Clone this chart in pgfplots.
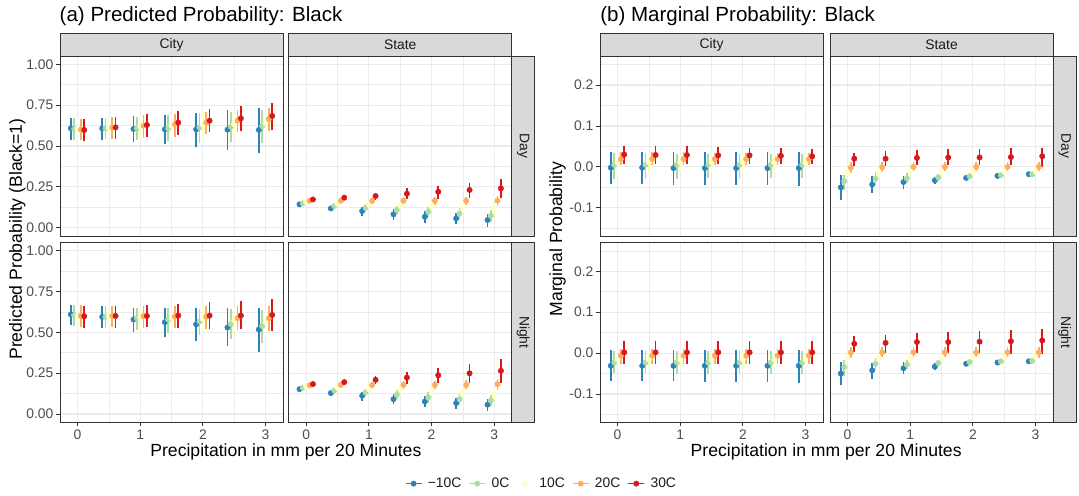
\documentclass[border=0pt]{standalone}
\usepackage{fontspec}
\setmainfont{Liberation Sans}
\usepackage{pgfplots}
\usepackage{pgfplotstable}
\pgfplotsset{compat=1.18}

\definecolor{c1}{HTML}{2B83BA}
\definecolor{c2}{HTML}{ABDDA4}
\definecolor{c3}{HTML}{FFFFBF}
\definecolor{c4}{HTML}{FDAE61}
\definecolor{c5}{HTML}{D7191C}
\definecolor{gridc}{HTML}{EBEBEB}
\definecolor{gray20}{HTML}{333333}
\definecolor{gray30}{HTML}{4D4D4D}
\definecolor{gray10}{HTML}{1A1A1A}
\definecolor{stripc}{HTML}{D9D9D9}

\newcommand{\tickfont}{\fontsize{10.4}{12}\selectfont}
\newcommand{\axfont}{\fontsize{13.2}{15}\selectfont}
\newcommand{\titfont}{\fontsize{15.4}{18}\selectfont}

% columns: p, then mean/low/high for -10C, 0C, 10C, 20C, 30C
% (a) predicted probability, City, Day
\pgfplotstableread{
p   m1    l1    h1    m2    l2    h2    m3    l3    h3    m4    l4    h4    m5    l5    h5
0   0.608 0.537 0.673 0.604 0.539 0.669 0.602 0.543 0.673 0.600 0.535 0.663 0.598 0.531 0.663
0.5 0.608 0.537 0.673 0.608 0.541 0.669 0.612 0.547 0.678 0.612 0.543 0.678 0.614 0.541 0.678
1   0.604 0.527 0.682 0.608 0.535 0.678 0.618 0.543 0.684 0.624 0.551 0.690 0.629 0.557 0.694
1.5 0.602 0.514 0.690 0.608 0.531 0.688 0.624 0.547 0.690 0.633 0.557 0.696 0.643 0.567 0.714
2   0.602 0.496 0.702 0.614 0.516 0.700 0.629 0.537 0.706 0.643 0.573 0.710 0.655 0.584 0.727
2.5 0.600 0.478 0.720 0.618 0.522 0.710 0.633 0.563 0.710 0.655 0.584 0.720 0.669 0.592 0.743
3   0.598 0.459 0.733 0.622 0.516 0.720 0.639 0.563 0.714 0.665 0.592 0.735 0.684 0.600 0.761
}\LCD
% (a) State, Day
\pgfplotstableread{
p   m1    l1    h1    m2    l2    h2    m3    l3    h3    m4    l4    h4    m5    l5    h5
0   0.143 0.133 0.153 0.149 0.140 0.158 0.157 0.149 0.165 0.165 0.157 0.173 0.173 0.163 0.183
0.5 0.118 0.106 0.130 0.133 0.123 0.143 0.147 0.139 0.155 0.165 0.157 0.173 0.184 0.172 0.196
1   0.102 0.073 0.129 0.122 0.098 0.143 0.141 0.124 0.157 0.165 0.145 0.184 0.194 0.170 0.214
1.5 0.082 0.047 0.112 0.108 0.082 0.135 0.135 0.114 0.155 0.165 0.145 0.186 0.208 0.173 0.241
2   0.067 0.031 0.102 0.098 0.065 0.129 0.129 0.100 0.155 0.165 0.141 0.190 0.220 0.176 0.255
2.5 0.057 0.020 0.092 0.086 0.053 0.118 0.120 0.094 0.149 0.165 0.139 0.190 0.231 0.184 0.276
3   0.047 0.006 0.082 0.073 0.037 0.108 0.112 0.078 0.145 0.165 0.135 0.194 0.241 0.180 0.298
}\LSD
% (a) City, Night
\pgfplotstableread{
p   m1    l1    h1    m2    l2    h2    m3    l3    h3    m4    l4    h4    m5    l5    h5
0   0.609 0.542 0.669 0.604 0.538 0.667 0.602 0.534 0.663 0.600 0.534 0.665 0.598 0.527 0.663
0.5 0.594 0.525 0.663 0.594 0.525 0.659 0.598 0.531 0.663 0.600 0.533 0.663 0.600 0.529 0.663
1   0.578 0.501 0.649 0.586 0.513 0.649 0.592 0.521 0.653 0.598 0.527 0.663 0.600 0.533 0.669
1.5 0.562 0.473 0.649 0.578 0.493 0.649 0.588 0.513 0.649 0.596 0.527 0.663 0.602 0.527 0.675
2   0.548 0.446 0.649 0.566 0.481 0.643 0.582 0.507 0.647 0.594 0.521 0.663 0.602 0.521 0.688
2.5 0.529 0.416 0.649 0.550 0.460 0.643 0.572 0.501 0.645 0.586 0.513 0.659 0.602 0.517 0.694
3   0.517 0.379 0.649 0.538 0.434 0.639 0.564 0.476 0.639 0.586 0.507 0.663 0.606 0.507 0.704
}\LCN
% (a) State, Night
\pgfplotstableread{
p   m1    l1    h1    m2    l2    h2    m3    l3    h3    m4    l4    h4    m5    l5    h5
0   0.152 0.142 0.162 0.160 0.151 0.169 0.166 0.158 0.174 0.176 0.168 0.184 0.183 0.173 0.193
0.5 0.128 0.116 0.140 0.144 0.134 0.154 0.160 0.151 0.169 0.178 0.168 0.188 0.195 0.183 0.207
1   0.112 0.081 0.136 0.132 0.108 0.154 0.152 0.134 0.170 0.178 0.160 0.196 0.209 0.181 0.233
1.5 0.091 0.061 0.120 0.118 0.090 0.144 0.148 0.124 0.170 0.178 0.156 0.200 0.223 0.185 0.258
2   0.077 0.045 0.108 0.101 0.067 0.132 0.136 0.106 0.164 0.178 0.152 0.203 0.237 0.187 0.284
2.5 0.067 0.030 0.099 0.091 0.055 0.124 0.130 0.097 0.160 0.178 0.152 0.209 0.249 0.187 0.308
3   0.057 0.020 0.091 0.083 0.047 0.116 0.120 0.087 0.152 0.183 0.148 0.213 0.264 0.189 0.339
}\LSN
% (b) marginal probability, City, Day
\pgfplotstableread{
p   m1     l1     h1    m2    l2     h2    m3    l3     h3    m4    l4    h4    m5    l5    h5
0   -0.002 -0.043 0.037 0.005 -0.029 0.033 0.011 -0.014 0.030 0.019 0.004 0.037 0.030 0.007 0.051
0.5 -0.002 -0.043 0.037 0.005 -0.029 0.033 0.011 -0.014 0.030 0.019 0.004 0.036 0.029 0.007 0.051
1   -0.003 -0.044 0.037 0.005 -0.029 0.032 0.011 -0.013 0.030 0.019 0.004 0.036 0.029 0.008 0.050
1.5 -0.003 -0.044 0.037 0.005 -0.028 0.032 0.011 -0.013 0.029 0.019 0.005 0.035 0.028 0.008 0.048
2   -0.003 -0.045 0.037 0.005 -0.028 0.032 0.011 -0.012 0.029 0.019 0.005 0.035 0.028 0.008 0.047
2.5 -0.003 -0.045 0.037 0.005 -0.028 0.031 0.011 -0.012 0.028 0.019 0.005 0.034 0.027 0.008 0.045
3   -0.003 -0.046 0.037 0.005 -0.027 0.031 0.010 -0.011 0.028 0.019 0.005 0.033 0.026 0.008 0.043
}\RCD
% (b) State, Day
\pgfplotstableread{
p   m1     l1     h1     m2     l2     h2     m3     l3     h3     m4     l4     h4    m5    l5    h5
0   -0.050 -0.081 -0.020 -0.035 -0.057 -0.019 -0.014 -0.028 0.000  -0.002 -0.014 0.011 0.020 0.002 0.035
0.5 -0.043 -0.065 -0.022 -0.029 -0.045 -0.013 -0.012 -0.024 0.000  -0.001 -0.012 0.011 0.020 0.002 0.038
1   -0.037 -0.055 -0.022 -0.028 -0.040 -0.016 -0.012 -0.022 -0.002 0.000  -0.011 0.012 0.022 0.004 0.041
1.5 -0.033 -0.042 -0.024 -0.026 -0.034 -0.018 -0.012 -0.020 -0.004 0.000  -0.010 0.012 0.023 0.004 0.043
2   -0.027 -0.032 -0.022 -0.023 -0.028 -0.018 -0.012 -0.018 -0.006 0.000  -0.010 0.012 0.023 0.004 0.044
2.5 -0.022 -0.025 -0.019 -0.020 -0.023 -0.017 -0.012 -0.016 -0.008 0.000  -0.010 0.012 0.024 0.004 0.045
3   -0.018 -0.020 -0.016 -0.018 -0.020 -0.016 -0.011 -0.014 -0.008 0.000  -0.010 0.013 0.026 0.000 0.047
}\RSD
% (b) City, Night
\pgfplotstableread{
p   m1     l1     h1    m2     l2     h2    m3     l3     h3    m4     l4     h4    m5    l5     h5
0   -0.031 -0.067 0.007 -0.023 -0.049 0.004 -0.016 -0.034 0.002 -0.006 -0.026 0.011 0.002 -0.026 0.029
0.5 -0.031 -0.069 0.007 -0.023 -0.049 0.004 -0.016 -0.034 0.002 -0.006 -0.026 0.011 0.002 -0.026 0.029
1   -0.031 -0.069 0.007 -0.023 -0.050 0.004 -0.016 -0.034 0.002 -0.006 -0.026 0.011 0.002 -0.026 0.030
1.5 -0.031 -0.070 0.007 -0.023 -0.050 0.004 -0.016 -0.034 0.002 -0.006 -0.026 0.011 0.002 -0.026 0.030
2   -0.031 -0.071 0.008 -0.023 -0.051 0.004 -0.016 -0.034 0.002 -0.006 -0.026 0.011 0.002 -0.026 0.030
2.5 -0.031 -0.071 0.008 -0.023 -0.051 0.004 -0.016 -0.034 0.002 -0.006 -0.026 0.011 0.002 -0.026 0.030
3   -0.031 -0.072 0.008 -0.023 -0.052 0.004 -0.016 -0.034 0.002 -0.006 -0.026 0.011 0.002 -0.027 0.030
}\RCN
% (b) State, Night
\pgfplotstableread{
p   m1     l1     h1     m2     l2     h2     m3     l3     h3     m4    l4     h4    m5    l5     h5
0   -0.050 -0.079 -0.022 -0.034 -0.055 -0.016 -0.011 -0.022 -0.002 0.002 -0.011 0.015 0.023 0.002  0.043
0.5 -0.042 -0.064 -0.023 -0.026 -0.042 -0.012 -0.011 -0.021 -0.001 0.002 -0.010 0.015 0.025 0.001  0.045
1   -0.037 -0.052 -0.022 -0.028 -0.038 -0.017 -0.011 -0.019 -0.003 0.002 -0.010 0.015 0.027 0.001  0.049
1.5 -0.033 -0.042 -0.023 -0.024 -0.032 -0.017 -0.010 -0.017 -0.003 0.002 -0.010 0.015 0.027 0.001  0.051
2   -0.026 -0.031 -0.021 -0.022 -0.027 -0.017 -0.010 -0.015 -0.005 0.002 -0.010 0.015 0.028 0.000  0.055
2.5 -0.023 -0.026 -0.020 -0.020 -0.023 -0.017 -0.009 -0.013 -0.005 0.002 -0.010 0.015 0.029 -0.001 0.057
3   -0.020 -0.022 -0.018 -0.019 -0.021 -0.017 -0.009 -0.012 -0.006 0.002 -0.011 0.015 0.031 -0.003 0.059
}\RSN

\pgfplotsset{
  panel/.style={
    scale only axis, width=167.3pt, height=135pt, anchor=south west,
    xmin=-0.28, xmax=3.28,
    xtick={0,1,2,3}, minor xtick={0.5,1.5,2.5},
    xticklabels={0,1,2,3},
    grid=both,
    major grid style={gridc, line width=0.85pt},
    minor grid style={gridc, line width=0.45pt},
    axis line style={gray20, line width=0.6pt},
    tick align=outside, major tick length=2.8pt, minor tick length=0pt,
    tick style={gray20, line width=0.6pt},
    xtick pos=left, ytick pos=left,
    ticklabel style={font=\tickfont, text=gray30},
    yticklabel style={inner sep=2pt},
    xticklabel style={inner sep=2.5pt},
  },
  probp/.style={panel, ymin=-0.0505, ymax=1.0505,
    ytick={0,0.25,0.5,0.75,1}, minor ytick={0.125,0.375,0.625,0.875},
    yticklabels={0.00,0.25,0.50,0.75,1.00}},
  margp/.style={panel, ymin=-0.169, ymax=0.271,
    ytick={-0.1,0,0.1,0.2}, minor ytick={-0.15,-0.05,0.05,0.15,0.25},
    yticklabels={-0.1,0.0,0.1,0.2}},
  noxt/.style={xticklabels={}, xtick style={draw=none}},
  noyt/.style={yticklabels={}, ytick style={draw=none}},
}

% one temperature series: table, column index, colour, dodge offset
\newcommand{\series}[4]{%
  \addplot[color=#3, only marks, mark=*, mark size=2pt,
    legend image code/.code={\draw[#3, line width=1.2pt] (0pt,0pt) -- (12pt,0pt); \fill[#3] (6pt,0pt) circle (2pt);},
    error bars/.cd, y dir=both, y explicit, error mark=none,
    error bar style={line width=1.25pt, #3}]
  table[x expr=\thisrow{p}+(#4), y=m#2,
    y error plus expr=\thisrow{h#2}-\thisrow{m#2},
    y error minus expr=\thisrow{m#2}-\thisrow{l#2}] {#1};}
\newcommand{\allseries}[1]{%
  \series{#1}{1}{c1}{-0.107}\series{#1}{2}{c2}{-0.0535}\series{#1}{3}{c3}{0}%
  \series{#1}{4}{c4}{0.0535}\series{#1}{5}{c5}{0.107}}

\begin{document}
\begin{tikzpicture}
\path (0,0) rectangle (809.25pt,372pt);

% ---- (a) predicted probability ----
\begin{axis}[probp, noxt, at={(45pt,195pt)}]
\allseries{\LCD}
\end{axis}
\begin{axis}[probp, noxt, noyt, at={(216.5pt,195pt)}]
\allseries{\LSD}
\end{axis}
\begin{axis}[probp, at={(45pt,55.3pt)}]
\allseries{\LCN}
\end{axis}
\begin{axis}[probp, noyt, at={(216.5pt,55.3pt)},
  legend columns=5,
  legend style={at={(1.1345,-0.341)}, anchor=center, draw=none, fill=none,
    font=\tickfont, text=gray10,
    /tikz/every odd column/.append style={column sep=2.1pt},
    /tikz/every even column/.append style={column sep=3.3pt}}]
\allseries{\LSN}
\legend{−10C,0C,10C,20C,30C}
\end{axis}

% ---- (b) marginal probability ----
\begin{axis}[margp, noxt, at={(450pt,195pt)}]
\allseries{\RCD}
\end{axis}
\begin{axis}[margp, noxt, noyt, at={(622.5pt,195pt)}]
\allseries{\RSD}
\end{axis}
\begin{axis}[margp, at={(450pt,55.3pt)}]
\allseries{\RCN}
\end{axis}
\begin{axis}[margp, noyt, at={(622.5pt,55.3pt)}]
\allseries{\RSN}
\end{axis}

% strips
\tikzset{strip/.style={fill=stripc, draw=gray20, line width=0.6pt}}
\foreach \x/\lab in {45/City,216.5/State,450/City,622.5/State}{
  \draw[strip] (\x pt,330pt) rectangle ({\x pt+167.3pt},347pt);
  \node[font=\tickfont, text=gray10] at ({\x pt+83.65pt},338.5pt) {\lab};
}
\foreach \x in {383.8,789.8}{
  \draw[strip] (\x pt,195pt) rectangle ({\x pt+17.3pt},330pt);
  \node[font=\tickfont, text=gray10, rotate=-90] at ({\x pt+8.65pt},262.5pt) {Day};
  \draw[strip] (\x pt,55.3pt) rectangle ({\x pt+17.3pt},190.3pt);
  \node[font=\tickfont, text=gray10, rotate=-90] at ({\x pt+8.65pt},122.8pt) {Night};
}

% titles
\node[anchor=base west, inner sep=0pt, font=\titfont] at (44.6pt,355.5pt) {(a) Predicted Probability: Black};
\node[anchor=base west, inner sep=0pt, font=\titfont] at (450pt,355.5pt) {(b) Marginal Probability: Black};
\node[anchor=base, inner sep=0pt, font=\axfont] at (214.4pt,29.3pt) {Precipitation in mm per 20 Minutes};
\node[anchor=base, inner sep=0pt, font=\axfont] at (619.6pt,29.3pt) {Precipitation in mm per 20 Minutes};
\node[anchor=base, inner sep=0pt, rotate=90, font=\axfont] at (16.5pt,192.7pt) {Predicted Probability (Black=1)};
\node[anchor=base, inner sep=0pt, rotate=90, font=\axfont] at (421.5pt,192.7pt) {Marginal Probability};
\end{tikzpicture}
\end{document}
